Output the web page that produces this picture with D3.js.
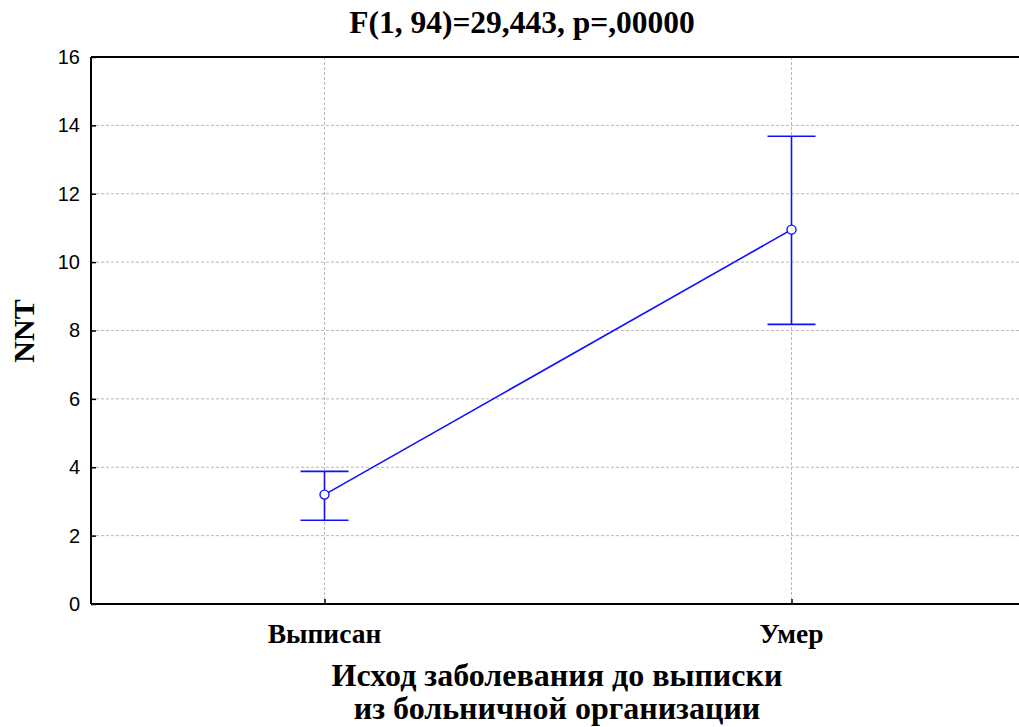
<!DOCTYPE html>
<html><head><meta charset="utf-8">
<script src="https://cdn.jsdelivr.net/npm/d3@7"></script>
<style>body{margin:0;background:#fff}svg{display:block}
.serif{font-family:'Liberation Serif','Times New Roman',serif;font-weight:bold}
.sans{font-family:'Liberation Sans',Arial,sans-serif}
</style>
</head><body>
<svg id="c" width="1019" height="727"></svg>
<script>
const categories = ["Выписан", "Умер"];
const means = [3.2, 10.95];
const upper = [3.88, 13.68];
const lower = [2.45, 8.18];
const yTicks = [0, 2, 4, 6, 8, 10, 12, 14, 16];
const titleText = "F(1, 94)=29,443, p=,00000";
const yLabel = "NNT";
const xLabelLines = ["Исход заболевания до выписки", "из больничной организации"];

const svg = d3.select("#c");
const L = 91, R = 1025, T = 57, B = 604;
const x = d3.scalePoint().domain(categories).range([L, R]).padding(0.5);
const y = d3.scaleLinear().domain([0, 16]).range([B, T]);
const blue = "#1010ff";

// grid
svg.append("g").selectAll("line").data(yTicks.filter(d => d > 0)).join("line")
  .attr("x1", L).attr("x2", 1019).attr("y1", d => y(d)).attr("y2", d => y(d))
  .attr("stroke", "#b8b8b8").attr("stroke-width", 1).attr("stroke-dasharray", "3,2");
svg.append("g").selectAll("line").data(categories).join("line")
  .attr("x1", d => x(d)).attr("x2", d => x(d)).attr("y1", T).attr("y2", B)
  .attr("stroke", "#b8b8b8").attr("stroke-width", 1).attr("stroke-dasharray", "3,2");

// axes
const yAxis = d3.axisLeft(y).tickValues(yTicks).tickSize(-5).tickPadding(11);
const gy = svg.append("g").attr("transform", `translate(${L},0)`).call(yAxis);
gy.select(".domain").remove();
gy.selectAll(".tick line").attr("stroke", "#000").attr("stroke-width", 1.5);
gy.selectAll("text").attr("class", "sans").attr("font-family", null).attr("font-size", 20).attr("fill", "#000");

const xAxis = d3.axisBottom(x).tickSize(-5).tickFormat("");
const gx = svg.append("g").attr("transform", `translate(0,${B})`).call(xAxis);
gx.select(".domain").remove();
gx.selectAll(".tick line").attr("stroke", "#000").attr("stroke-width", 1.5);

// frame lines
svg.append("line").attr("x1", L).attr("x2", L).attr("y1", T).attr("y2", B).attr("stroke", "#000").attr("stroke-width", 2);
svg.append("line").attr("x1", L).attr("x2", 1019).attr("y1", T).attr("y2", T).attr("stroke", "#000").attr("stroke-width", 2);
svg.append("line").attr("x1", L).attr("x2", 1019).attr("y1", B).attr("y2", B).attr("stroke", "#000").attr("stroke-width", 2);

// x tick labels
svg.append("g").selectAll("text").data(categories).join("text")
  .attr("class", "serif")
  .attr("x", d => x(d)).attr("y", 643).attr("text-anchor", "middle")
  .attr("font-size", 27.5).text(d => d);

// error bars
const data = categories.map((c, i) => ({c, m: means[i], u: upper[i], l: lower[i]}));
const eb = svg.append("g").attr("stroke", blue).attr("stroke-width", 1.6).attr("fill", "none");
eb.selectAll(".v").data(data).join("line").attr("x1", d => x(d.c)).attr("x2", d => x(d.c))
  .attr("y1", d => y(d.u)).attr("y2", d => y(d.l));
eb.selectAll(".cu").data(data).join("line").attr("x1", d => x(d.c) - 24).attr("x2", d => x(d.c) + 24)
  .attr("y1", d => y(d.u)).attr("y2", d => y(d.u));
eb.selectAll(".cl").data(data).join("line").attr("x1", d => x(d.c) - 24).attr("x2", d => x(d.c) + 24)
  .attr("y1", d => y(d.l)).attr("y2", d => y(d.l));

// mean line
svg.append("path").datum(data)
  .attr("d", d3.line().x(d => x(d.c)).y(d => y(d.m)))
  .attr("stroke", blue).attr("stroke-width", 1.6).attr("fill", "none");
svg.append("g").selectAll("circle").data(data).join("circle")
  .attr("cx", d => x(d.c)).attr("cy", d => y(d.m)).attr("r", 4.5)
  .attr("fill", "#fff").attr("stroke", blue).attr("stroke-width", 1.4);

// title
svg.append("text").attr("class", "serif").attr("x", 522).attr("y", 33).attr("text-anchor", "middle")
  .attr("font-size", 31.5).text(titleText);

// y label
svg.append("text").attr("class", "serif").attr("transform", "translate(34,331) rotate(-90)").attr("text-anchor", "middle")
  .attr("font-size", 30).text(yLabel);

// x label
svg.append("g").selectAll("text").data(xLabelLines).join("text")
  .attr("class", "serif")
  .attr("x", 557).attr("y", (d, i) => 686 + i * 33).attr("text-anchor", "middle")
  .attr("font-size", 32).text(d => d);
</script>
</body></html>
